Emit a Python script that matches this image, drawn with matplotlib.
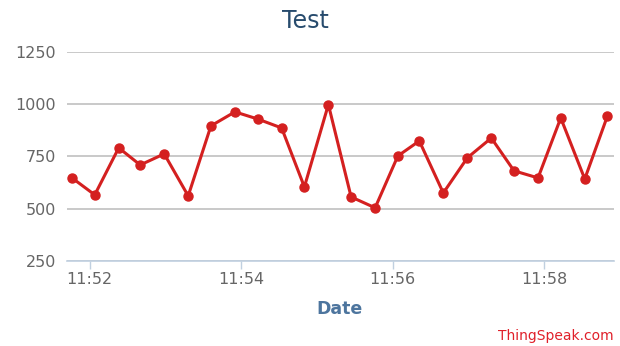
import matplotlib
matplotlib.use("Agg")
import matplotlib.pyplot as plt
import matplotlib.dates as mdates
import pandas as pd

times = ["11:51:46", "11:52:04", "11:52:23", "11:52:40", "11:52:59", "11:53:18",
         "11:53:36", "11:53:55", "11:54:13", "11:54:32", "11:54:50", "11:55:09",
         "11:55:27", "11:55:46", "11:56:04", "11:56:21", "11:56:40", "11:56:59",
         "11:57:18", "11:57:36", "11:57:55", "11:58:13", "11:58:32", "11:58:50"]
values = [647, 566, 791, 709, 762, 561, 896, 963, 929, 886, 604, 998,
          556, 504, 752, 824, 575, 743, 838, 681, 647, 934, 642, 944]
y_ticks = [250, 500, 750, 1000, 1250]
x_ticks = ["11:52", "11:54", "11:56", "11:58"]
title = "Test"
x_label = "Date"
credit = "ThingSpeak.com"

day = "2024-01-01 "
t = pd.to_datetime([day + s for s in times])
xt = pd.to_datetime([day + s for s in x_ticks])

fig = plt.figure(figsize=(6.2, 3.46), dpi=100)
ax = fig.add_axes([0.108, 0.246, 0.882, 0.604])

ax.plot(t, values, color="#d42020", linewidth=2.2, marker="o", markersize=6.5,
        solid_joinstyle="round", zorder=3, clip_on=False)

ax.set_ylim(250, 1250)
ax.set_yticks(y_ticks)
ax.set_xlim(pd.Timestamp(day + "11:51:42"), pd.Timestamp(day + "11:58:55"))
ax.set_xticks(xt)
ax.xaxis.set_major_formatter(mdates.DateFormatter("%H:%M"))

ax.grid(axis="y", color="#c0c0c0", linewidth=1.2)
ax.set_axisbelow(True)
for s in ["top", "right", "left"]:
    ax.spines[s].set_visible(False)
ax.spines["bottom"].set_color("#c0d0e0")
ax.spines["bottom"].set_linewidth(1.2)
ax.tick_params(axis="y", length=0, pad=8, labelsize=11.5, labelcolor="#666666")
ax.tick_params(axis="x", length=6, width=1, color="#c0d0e0", pad=2,
               labelsize=11.5, labelcolor="#666666")

fig.text(0.492, 0.94, title, ha="center", va="center", fontsize=17, color="#274b6d")
fig.text(0.548, 0.108, x_label, ha="center", va="center", fontsize=12.5,
         fontweight="bold", color="#4d759e")
fig.text(0.99, 0.028, credit, ha="right", va="center", fontsize=10, color="#e0202a")

fig.savefig("out.png", dpi=100)
